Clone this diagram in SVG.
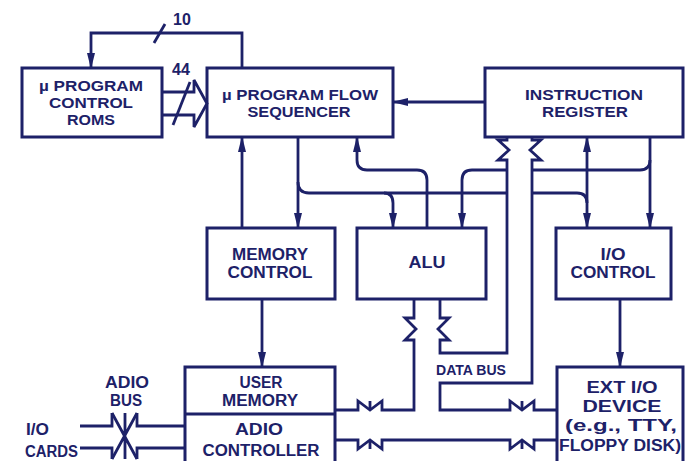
<svg xmlns="http://www.w3.org/2000/svg" width="688" height="461" viewBox="0 0 688 461">
<defs>
<style>
.bx{fill:none;stroke:#1d2168;stroke-width:3}
.ln{fill:none;stroke:#1d2168;stroke-width:2.8;stroke-linejoin:miter}
.ar{marker-end:url(#arr)}
.t{font-family:"Liberation Sans",Arial,sans-serif;font-weight:bold;font-size:16px;fill:#1d2168;text-anchor:middle}
.k{font-size:15px}
.s{text-anchor:start}
</style>
<marker id="arr" viewBox="0 0 16 8" refX="15" refY="4" markerWidth="16" markerHeight="8" markerUnits="userSpaceOnUse" orient="auto-start-reverse">
<path d="M0,0 L16,4 L0,8 z" fill="#1d2168"/>
</marker>
</defs>
<rect width="688" height="461" fill="#ffffff"/>

<g id="roms">
<rect class="bx" x="22" y="68" width="140" height="69"/>
<text class="t k" x="91" y="91" textLength="104" lengthAdjust="spacingAndGlyphs">µ PROGRAM</text>
<text class="t k" x="91" y="108" textLength="84" lengthAdjust="spacingAndGlyphs">CONTROL</text>
<text class="t k" x="91" y="125" textLength="48" lengthAdjust="spacingAndGlyphs">ROMS</text>
</g>
<g id="sequencer">
<rect class="bx" x="207" y="68" width="186" height="69"/>
<text class="t k" x="300" y="100" textLength="156" lengthAdjust="spacingAndGlyphs">µ PROGRAM FLOW</text>
<text class="t k" x="299" y="117" textLength="103" lengthAdjust="spacingAndGlyphs">SEQUENCER</text>
</g>
<g id="instruction-register">
<rect class="bx" x="485" y="68" width="198" height="69"/>
<text class="t k" x="584" y="100" textLength="118" lengthAdjust="spacingAndGlyphs">INSTRUCTION</text>
<text class="t k" x="585" y="117" textLength="86" lengthAdjust="spacingAndGlyphs">REGISTER</text>
</g>
<g id="memory-control">
<rect class="bx" x="207" y="228" width="128" height="71"/>
<text class="t" x="270" y="260" textLength="76" lengthAdjust="spacingAndGlyphs">MEMORY</text>
<text class="t" x="270" y="278" textLength="85" lengthAdjust="spacingAndGlyphs">CONTROL</text>
</g>
<g id="alu">
<rect class="bx" x="357" y="228" width="129" height="71"/>
<text class="t" x="427" y="268" textLength="37" lengthAdjust="spacingAndGlyphs">ALU</text>
</g>
<g id="io-control">
<rect class="bx" x="556" y="228" width="115" height="71"/>
<text class="t" x="613" y="260" textLength="25" lengthAdjust="spacingAndGlyphs">I/O</text>
<text class="t" x="613" y="278" textLength="85" lengthAdjust="spacingAndGlyphs">CONTROL</text>
</g>
<g id="user-memory-adio">
<rect class="bx" x="185" y="367" width="150" height="100"/>
<line class="bx" x1="185" y1="414" x2="335" y2="414"/>
<text class="t" x="261" y="388" textLength="43" lengthAdjust="spacingAndGlyphs">USER</text>
<text class="t" x="260" y="406" textLength="76" lengthAdjust="spacingAndGlyphs">MEMORY</text>
<text class="t" x="259" y="435" textLength="48" lengthAdjust="spacingAndGlyphs">ADIO</text>
<text class="t" x="261" y="456" textLength="117" lengthAdjust="spacingAndGlyphs">CONTROLLER</text>
</g>
<g id="ext-io">
<rect class="bx" x="557" y="367" width="126" height="100"/>
<text class="t" x="622" y="393" textLength="71" lengthAdjust="spacingAndGlyphs">EXT I/O</text>
<text class="t" x="622" y="412" textLength="79" lengthAdjust="spacingAndGlyphs">DEVICE</text>
<text class="t" x="621" y="431" textLength="112" lengthAdjust="spacingAndGlyphs">(e.g., TTY,</text>
<text class="t" x="620" y="451" textLength="122" lengthAdjust="spacingAndGlyphs">FLOPPY DISK)</text>
</g>
<g id="labels">
<text class="t" x="182" y="25">10</text>
<text class="t" x="181" y="75">44</text>
<text class="t" x="471" y="375" style="font-size:15px" textLength="70" lengthAdjust="spacingAndGlyphs">DATA BUS</text>
<text class="t" x="127" y="388" textLength="44" lengthAdjust="spacingAndGlyphs">ADIO</text>
<text class="t" x="126" y="406" textLength="32" lengthAdjust="spacingAndGlyphs">BUS</text>
<text class="t s" x="26" y="435" textLength="23" lengthAdjust="spacingAndGlyphs">I/O</text>
<text class="t s" x="25" y="457" textLength="53" lengthAdjust="spacingAndGlyphs">CARDS</text>
</g>

<g id="connectors">
<!-- sequencer feedback to ROMs (10) -->
<path class="ln ar" d="M242,68 V33 H91 V68"/>
<path class="ln" d="M154,43 L165,24"/>
<!-- 44-bit block arrow ROMs to sequencer -->
<path class="ln" d="M162,92 H194 V80 L207,103.5 L194,127 V115 H162"/>
<path class="ln" d="M173,125 L190,82"/>
<!-- IR to sequencer -->
<path class="ln ar" d="M485,102 H393"/>
<!-- memory control to sequencer -->
<path class="ln ar" d="M242,228 V137"/>
<!-- sequencer to memory control -->
<path class="ln ar" d="M298,137 V228"/>
<!-- sequencer control line -->
<path class="ln" d="M298,182 Q298,193 309,193 H507"/>
<path class="ln" d="M532,193 H577 Q587,193 587,203"/>
<path class="ln ar" d="M384,193 Q393,193 393,203 V228"/>
<!-- ALU to sequencer -->
<path class="ln ar" d="M427,228 V180 Q427,170 417,170 H367 Q357,170 357,160 V137"/>
<!-- IR to I/O control and ALU -->
<path class="ln ar" d="M650,137 V228"/>
<path class="ln" d="M650,160 Q650,170 640,170 H532"/>
<path class="ln ar" d="M507,170 H472 Q462,170 462,180 V228"/>
<!-- IR <-> I/O control -->
<path class="ln ar" style="marker-start:url(#arr)" d="M587,137 V228"/>
<!-- memory control to user memory -->
<path class="ln ar" d="M262,299 V367"/>
<!-- I/O control to ext I/O -->
<path class="ln ar" d="M620,299 V367"/>
<!-- data bus left line -->
<path class="ln" d="M507,137 V140 H498 L509,150 L498,160 H507 V353 H440 V340 H449 L438,329 L449,318 H440 V299"/>
<!-- data bus right line -->
<path class="ln" d="M532,137 V140 H541 L530,150 L541,160 H532 V383 H440 V410 H510 V401 L522,410 L534,401 V410 H557"/>
<path class="ln" d="M522,410 V401"/>
<!-- ALU left leg to user memory -->
<path class="ln" d="M414,299 V318 H405 L416,329 L405,340 H414 V410 H382 V401 L370,410 L358,401 V410 H335"/>
<path class="ln" d="M370,410 V401"/>
<!-- ADIO controller to ext I/O -->
<path class="ln" d="M335,440 H358 V449 L370,440 L382,449 V440 H510 V449 L522,440 L534,449 V440 H557"/>
<path class="ln" d="M370,440 V449 M522,440 V449"/>
<!-- ADIO bus / I/O cards -->
<path class="ln" d="M80,426 H112 V413 M137,413 V426 H185"/>
<path class="ln" d="M80,448 H112 V459 M137,459 V448 H185"/>
<path class="ln" d="M112,413 L137,459 M137,413 L112,459 M125,413 V459"/>
</g>
</svg>
